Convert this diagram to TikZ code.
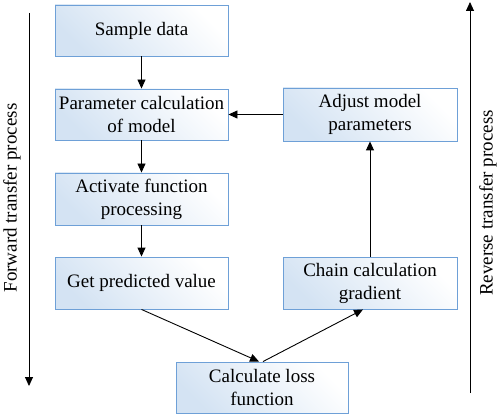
\documentclass[tikz,border=0pt]{standalone}
\usepackage{fontspec}
\setmainfont{Liberation Serif}
\usetikzlibrary{arrows.meta,calc}
\definecolor{boxline}{RGB}{110,160,215}
\definecolor{boxfill}{RGB}{212,227,243}
\tikzset{
  box/.style={draw=boxline, line width=0.9pt, top color=white, bottom color=boxfill, shading angle=-45,
    align=center, inner sep=0pt, font=\fontsize{19}{23}\selectfont},
  conn/.style={line width=0.9pt, -{Triangle[length=9pt,width=8pt]}},
  side/.style={font=\fontsize{19}{23}\selectfont, rotate=90}
}
\begin{document}
\begin{tikzpicture}[x=1pt,y=-1pt]
\useasboundingbox (0,0) rectangle (500,414);
\node[box, minimum width=173pt, minimum height=51pt] (sample) at (141.5,30.5) {Sample data};
\node[box, minimum width=173pt, minimum height=51pt] (param) at (141.5,114.5) {Parameter calculation\\of model};
\node[box, minimum width=173pt, minimum height=52pt] (act) at (141.5,199) {Activate function\\processing};
\node[box, minimum width=173pt, minimum height=52pt] (pred) at (141.5,283) {Get predicted value};
\node[box, minimum width=172pt, minimum height=51pt] (loss) at (262,387.5) {Calculate loss\\function};
\node[box, minimum width=174pt, minimum height=53pt] (adjust) at (370,114.5) {Adjust model\\parameters};
\node[box, minimum width=174pt, minimum height=52pt] (chain) at (370,283) {Chain calculation\\gradient};
\coordinate (ftop) at (29,13);
\coordinate (fbot) at (29,386);
\coordinate (rbot) at (470,393);
\coordinate (rtop) at (470,2);
\draw[conn] (ftop) -- (fbot);
\draw[conn] (rbot) -- (rtop);
\node[side] (flabel) at (12,198) {Forward transfer process};
\node[side] (rlabel) at (488,203) {Reverse transfer process};
\draw[conn] (sample) -- (param);
\draw[conn] (param) -- (act);
\draw[conn] (act) -- (pred);
\draw[conn] (adjust) -- (param);
\draw[conn] (chain) -- (adjust);
\draw[conn] (pred.south) -- ($(loss.north)+(-3,0)$);
\draw[conn] ($(loss.north)+(1,0)$) -- ($(chain.south)+(-7,0)$);
\end{tikzpicture}
\end{document}
